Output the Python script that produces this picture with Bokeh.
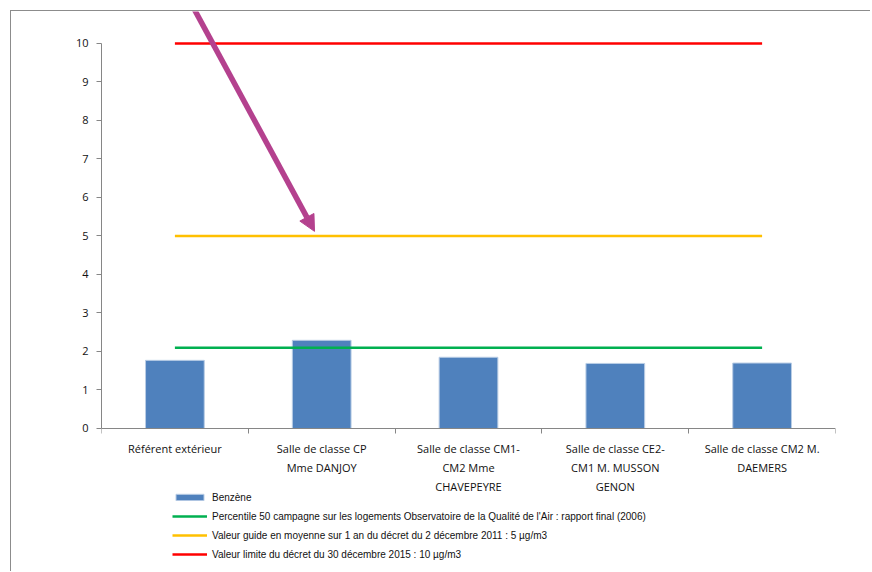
from bokeh.plotting import figure
from bokeh.models import FixedTicker, Legend, LegendItem, Arrow, NormalHead, LinearAxis
from bokeh.embed import file_html
from bokeh.resources import INLINE

categories = [
    "Référent extérieur",
    "Salle de classe CP\nMme DANJOY",
    "Salle de classe CM1-\nCM2 Mme\nCHAVEPEYRE",
    "Salle de classe CE2-\nCM1 M. MUSSON\nGENON",
    "Salle de classe CM2 M.\nDAEMERS",
]
benzene = [1.77, 2.29, 1.85, 1.69, 1.70]
percentile50 = 2.1
valeur_guide = 5
valeur_limite = 10
y_ticks = list(range(0, 11))

labels = [
    "Benzène",
    "Percentile 50 campagne sur les logements Observatoire de la Qualité de l'Air : rapport final (2006)",
    "Valeur guide en moyenne sur 1 an du décret du 2 décembre 2011 : 5 µg/m3",
    "Valeur limite du décret du 30 décembre 2015 : 10 µg/m3",
]

# annotation arrow (data coords)
arrow_start = (0.599, 11.12)
arrow_end = (1.451, 5.12)

n = len(categories)
centers = [i + 0.5 for i in range(n)]
bounds = [float(i) for i in range(n + 1)]

FONT = "Open Sans"

p = figure(width=860, height=561, x_range=(0, n), y_range=(-3.74, 10.83),
           output_backend="svg", toolbar_location=None, x_axis_location=None,
           min_border_left=90, min_border_right=36, min_border_top=0,
           min_border_bottom=0)
p.styles = {"margin-left": "10px", "margin-top": "10px",
            "border-left": "1px solid #8c8c8c", "border-top": "1px solid #8c8c8c"}
p.outline_line_color = None
p.xgrid.visible = False
p.ygrid.visible = False

bars = p.vbar(x=centers, top=benzene, width=0.4, fill_color="#4F81BD",
              line_color="#b9cde5", line_width=1)
x_line = [centers[0], centers[-1]]
g = p.line(x=x_line, y=[percentile50] * 2, line_color="#00B050", line_width=2.5)
y = p.line(x=x_line, y=[valeur_guide] * 2, line_color="#FFC000", line_width=2.5)
r = p.line(x=x_line, y=[valeur_limite] * 2, line_color="#FF0000", line_width=2.5)

axc = "#868686"
xa = LinearAxis(fixed_location=0)
p.add_layout(xa, "below")
xa.ticker = FixedTicker(ticks=centers, minor_ticks=bounds)
xa.major_label_overrides = {c: lab for c, lab in zip(centers, categories)}
xa.major_tick_out = 0
xa.major_tick_in = 0
xa.minor_tick_out = 5
xa.minor_tick_in = 0
xa.axis_line_color = axc
xa.minor_tick_line_color = axc
xa.major_label_standoff = 8
xa.major_label_text_font = FONT
xa.major_label_text_font_size = "11px"
xa.major_label_text_color = "#111111"
xa.major_label_text_line_height = 1.26

ya = p.yaxis[0]
ya.ticker = FixedTicker(ticks=y_ticks)
ya.bounds = (0, 10)
ya.major_tick_out = 5
ya.major_tick_in = 0
ya.minor_tick_out = 0
ya.minor_tick_in = 0
ya.axis_line_color = axc
ya.major_tick_line_color = axc
ya.major_label_standoff = 8
ya.major_label_text_font = FONT
ya.major_label_text_font_size = "11px"
ya.major_label_text_color = "#111111"

legend = Legend(items=[LegendItem(label=labels[0], renderers=[bars]),
                       LegendItem(label=labels[1], renderers=[g]),
                       LegendItem(label=labels[2], renderers=[y]),
                       LegendItem(label=labels[3], renderers=[r])],
                location=(71, 11), glyph_width=35, glyph_height=8,
                label_height=14, spacing=5, padding=0, margin=0,
                border_line_color=None, background_fill_alpha=0,
                label_text_font="Liberation Sans", label_text_font_size="10px",
                label_text_color="#111111", label_standoff=5)
p.add_layout(legend)

ac = "#B4418E"
p.add_layout(Arrow(end=NormalHead(size=16, fill_color=ac, line_color=ac),
                   x_start=arrow_start[0], y_start=arrow_start[1],
                   x_end=arrow_end[0], y_end=arrow_end[1],
                   line_color=ac, line_width=5.5))

open("out.html", "w").write(file_html(p, INLINE))
